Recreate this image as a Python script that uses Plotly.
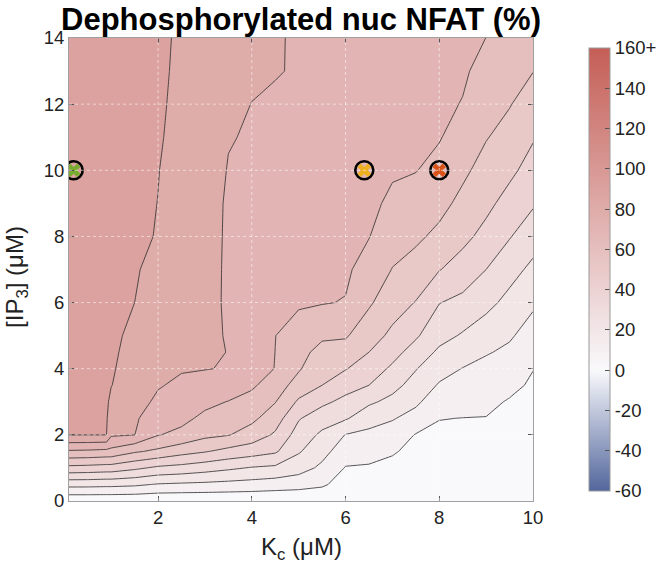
import plotly.graph_objects as go

# ---------------- data ----------------
kc = [0.1, 0.5, 0.9, 1.0, 1.5, 2.0, 2.5, 3.0, 3.5, 4.0, 4.5, 5.0, 5.5, 6.0, 6.5, 7.0, 7.5, 8.0, 8.5, 9.0, 9.5, 10.0]
ip3 = [0, 0.5, 1, 1.5, 2, 2.5, 3, 3.5, 4, 4.5, 5, 6, 7, 8, 9, 10, 11, 12, 13, 14]

# dephosphorylated nuclear NFAT (%), one list per Kc column, IP3 = 0 ... 14
nfat_by_kc = [
    [2, 23.3, 47.1, 68.7, 90.2, 92, 93, 93.5, 94, 94.3, 94.6, 95, 95.3, 95.6, 95.8, 96, 96.2, 96.4, 96.5, 96.6],      # 0.1
    [2, 23.2, 46.5, 68.3, 90.1, 91.8, 92.8, 93.3, 93.8, 94.1, 94.4, 94.8, 95.1, 95.4, 95.6, 95.8, 96, 96.2, 96.3, 96.4],  # 0.5
    [2, 22.7, 45.5, 67.3, 90.05, 91, 91.8, 92.3, 92.8, 93.2, 93.5, 94, 94.4, 94.7, 95, 95.2, 95.4, 95.6, 95.7, 95.8],  # 0.9
    [2, 22.7, 45.5, 67.1, 81.25, 84.4, 87.5, 90.3, 91.2, 91.8, 92.3, 93, 93.5, 94, 94.3, 94.6, 94.9, 95.1, 95.3, 95.4],  # 1.0
    [2, 21.7, 42, 61.3, 80.1, 81.3, 82.6, 83.8, 85, 86.3, 87.5, 90, 91, 91.5, 92, 92.4, 92.7, 93, 93.2, 93.4],          # 1.5
    [1.5, 19.3, 38.1, 58, 70.4, 74.6, 78.75, 80.5, 81.3, 82.1, 83, 85, 86.8, 89.6, 89.9, 90.2, 90.8, 91.3, 91.7, 92],    # 2.0
    [1.5, 18.5, 36.6, 53.6, 67.6, 72.5, 75.6, 78.75, 80.5, 81.3, 82, 83.3, 84.5, 85.5, 86.3, 87, 87.5, 87.8, 88.2, 88.5],  # 2.5
    [1.5, 17.9, 34.2, 50.7, 62.4, 67.8, 72.4, 76.4, 80.3, 80.8, 81.3, 81.8, 82.2, 82.0, 82.4, 83.2, 83.6, 84, 84.4, 84.8],  # 3.0
    [1.5, 17.1, 31.7, 47.1, 60.5, 65, 69.7, 75.5, 79.5, 79.9, 79.6, 79.2, 79.1, 79.3, 79.3, 79.7, 80.3, 80.9, 81.5, 82],   # 3.5
    [1.5, 16.3, 29.3, 44.6, 55.6, 62.2, 66.6, 71.5, 73.5, 75, 76, 77.3, 78, 78.5, 78.8, 79.1, 79.5, 79.95, 80.6, 81],     # 4.0
    [1.5, 15, 28.1, 41.4, 48.6, 54.7, 60.4, 65, 69.8, 69.95, 70.1, 71.5, 73, 74.5, 76, 77.5, 78.7, 79.5, 80.2, 80.3],     # 4.5
    [1.5, 13.9, 24.1, 31, 35.7, 40.8, 48.5, 55.9, 61.1, 63.75, 66.4, 71, 73.5, 75.5, 77, 78, 78.8, 79.3, 79.7, 79.6],     # 5.0
    [1.5, 11.6, 18, 23.3, 28.1, 34.5, 42.2, 50, 52.3, 56.2, 61.9, 70.5, 72.5, 74, 75.3, 76.3, 77, 77.5, 77.9, 78.2],      # 5.5
    [1.2, 5.35, 9.5, 14.5, 19.7, 31.1, 37.3, 44, 50.5, 55.8, 61, 69.6, 71.5, 73, 74.2, 75.2, 76, 76.5, 76.9, 77.2],       # 6.0
    [1, 5, 9, 13.4, 17.8, 23.8, 31.7, 40, 45, 50, 54.2, 61.3, 66.2, 70.3, 72, 73.3, 74.2, 74.9, 75.4, 75.8],            # 6.5
    [1, 4.2, 7.4, 10.95, 15.7, 20.7, 27.3, 33.2, 38.4, 43.3, 47.9, 54.3, 59.7, 64, 68.3, 71, 72.5, 73.5, 74.2, 74.7],     # 7.0
    [1, 3.2, 5.3, 7.4, 9.5, 16.6, 21.7, 26.1, 30.5, 36, 41.3, 49.6, 56.3, 61.7, 66.1, 70.3, 72.2, 73.1, 73.7, 74.1],      # 7.5
    [1, 2.9, 4.8, 6.7, 8.6, 10.2, 14.5, 19.1, 23.6, 28.2, 33.3, 40.3, 50.4, 57.8, 62.9, 67.1, 70.6, 72, 72.8, 73.3],      # 8.0
    [1, 2.8, 4.6, 6.3, 8.1, 9.9, 12.8, 16.2, 19.7, 24.3, 29, 37.5, 45.8, 52.5, 57.5, 61.9, 65.8, 69.6, 71.3, 72.2],       # 8.5
    [1, 2.8, 4.5, 6.3, 8.1, 9.8, 11.7, 14.5, 17.1, 20.8, 24.5, 32.9, 40, 47.1, 52.4, 56.5, 60.5, 63.7, 66.9, 69.95],      # 9.0
    [1, 2.4, 3.8, 5.2, 6.6, 8, 9.4, 11.9, 15, 18.1, 21.2, 27.1, 33.6, 40.6, 46.5, 52.1, 56.6, 60.5, 63.5, 66],           # 9.5
    [1, 2.1, 3.3, 4.4, 5.5, 6.6, 7.8, 8.9, 10.2, 12.9, 15.7, 21.6, 27.7, 34.4, 41.1, 46.3, 50.8, 55.5, 60.2, 63],        # 10.0
]

level_start, level_end, level_step = 10, 90, 10

marker_kc = [0.2, 6.4, 8.0]
marker_ip3 = [10, 10, 10]
marker_colors = ["#77AC30", "#EDB120", "#D95319"]

x_ticks = [2, 4, 6, 8, 10]
y_ticks = [0, 2, 4, 6, 8, 10, 12, 14]
cb_ticks = [-60, -40, -20, 0, 20, 40, 60, 80, 100, 120, 140, 160]
cb_labels = ["-60", "-40", "-20", "0", "20", "40", "60", "80", "100", "120", "140", "160+"]
cb_min, cb_max = -60, 160

# ---------------- colours ----------------
BLUE = (82, 102, 156)
WHITE = (249, 249, 252)
RED = (196, 94, 86)


def mix(c1, c2, t):
    return "rgb(%d,%d,%d)" % tuple(round(a + (b - a) * t) for a, b in zip(c1, c2))


f0 = (0 - cb_min) / (cb_max - cb_min)
bar_scale = [[0, mix(BLUE, BLUE, 0)], [f0, mix(WHITE, WHITE, 0)], [1, mix(RED, RED, 0)]]
# bands filled with colour of their lower level (0 ... 90)
fill_scale = [[0, mix(WHITE, RED, 0)], [1, mix(WHITE, RED, level_end / cb_max)]]

z = [list(r) for r in zip(*nfat_by_kc)]

FONT = "Liberation Sans, Arial, Helvetica, sans-serif"

fig = go.Figure()
fig.add_trace(go.Contour(
    x=kc, y=ip3, z=z,
    autocontour=False,
    contours=dict(start=level_start, end=level_end, size=level_step, coloring="fill", showlines=True),
    colorscale=fill_scale,
    line=dict(color="#2b2b2b", width=0.8, smoothing=0),
    showscale=False,
    hoverinfo="skip",
))

# colorbar carrier (outside visible range)
fig.add_trace(go.Scatter(
    x=[50, 50], y=[50, 50], mode="markers",
    marker=dict(color=[cb_min, cb_max], cmin=cb_min, cmax=cb_max, colorscale=bar_scale,
                size=1, showscale=True,
                colorbar=dict(
                    x=1.099, xanchor="left", y=0.5, yanchor="middle",
                    len=1, lenmode="fraction", thickness=21, thicknessmode="pixels",
                    tickvals=cb_ticks, ticktext=cb_labels, ticks="inside", ticklen=5,
                    tickcolor="#555", outlinecolor="#9a9a9a", outlinewidth=1,
                    tickfont=dict(family=FONT, size=18.5, color="#222"),
                )),
    showlegend=False, hoverinfo="skip",
))

fig.add_trace(go.Scatter(
    x=marker_kc, y=marker_ip3, mode="markers",
    marker=dict(symbol="circle-open", size=18, color="black", line=dict(width=2.6, color="black")),
    showlegend=False, hoverinfo="skip",
))
fig.add_trace(go.Scatter(
    x=marker_kc, y=marker_ip3, mode="markers",
    marker=dict(symbol="x", size=12, color=marker_colors, line=dict(width=0)),
    showlegend=False, hoverinfo="skip",
))

grid_line = dict(color="rgba(255,255,255,0.55)", width=1, dash="dot")
shapes = []
for xv in x_ticks[:-1]:
    shapes.append(dict(type="line", xref="x", yref="paper", x0=xv, x1=xv, y0=0, y1=1,
                       line=grid_line, layer="above"))
for yv in y_ticks[1:-1]:
    shapes.append(dict(type="line", xref="paper", yref="y", x0=0, x1=1, y0=yv, y1=yv,
                       line=grid_line, layer="above"))

axis_common = dict(showline=True, mirror="ticks", linecolor="#a0a0a0", linewidth=1,
                   ticks="inside", ticklen=5, tickcolor="#555", showgrid=False, zeroline=False,
                   tickfont=dict(family=FONT, size=18.5, color="#222"))

fig.update_layout(
    width=656, height=574,
    margin=dict(l=69, r=123, t=38, b=73, autoexpand=False),
    paper_bgcolor="white", plot_bgcolor="white",
    font=dict(family=FONT, color="#111"),
    title=dict(text="<b>Dephosphorylated nuc NFAT (%)</b>", x=0.5, xref="paper", xanchor="center",
               y=1 - 19 / 574, yanchor="middle", font=dict(family=FONT, size=31, color="black")),
    xaxis=dict(range=[kc[0], kc[-1]], tickvals=x_ticks, **axis_common),
    yaxis=dict(range=[ip3[0], ip3[-1]], tickvals=y_ticks, **axis_common),
    shapes=shapes,
    annotations=[
        dict(text="K<sub>c</sub> (μM)", xref="paper", yref="paper", x=0.5, y=-0.102,
             xanchor="center", yanchor="middle", showarrow=False,
             font=dict(family=FONT, size=24, color="#222")),
        dict(text="[IP<sub>3</sub>] (μM)", xref="paper", yref="paper", x=-0.112, y=0.484,
             xanchor="center", yanchor="middle", textangle=-90, showarrow=False,
             font=dict(family=FONT, size=24, color="#222")),
    ],
)

fig.write_html("out.html", config={"displayModeBar": False},
               post_script="document.body.style.margin='0px';")
